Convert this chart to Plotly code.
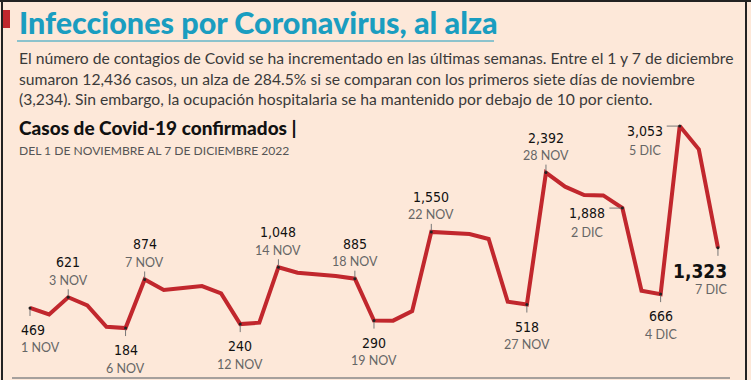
import pandas as pd
import plotly.graph_objects as go

# ---------------- data ----------------
dates = pd.date_range("2022-11-01", "2022-12-07", freq="D")
cases = [469, 377, 621, 506, 203, 184, 874, 724, 753, 781,
         677, 240, 260, 1048, 970, 947, 923, 885, 290, 289,
         426, 1550, 1539, 1520, 1449, 558, 518, 2392, 2192, 2074,
         2068, 1888, 715, 666, 3053, 2723, 1323]
month_abbr = {11: "NOV", 12: "DIC"}

# labelled points: (index, placement)
labelled = [(0, "first"), (2, "above"), (5, "below"), (6, "above"), (11, "below"),
            (13, "above"), (17, "above"), (18, "below"), (21, "above"), (26, "below"),
            (27, "above"), (31, "left"), (33, "below"), (34, "left"), (36, "last")]

title = "Infecciones por Coronavirus, al alza"
body = ["El número de contagios de Covid se ha incrementado en las últimas semanas. Entre el 1 y 7 de diciembre",
        "sumaron 12,436 casos, un alza de 284.5% si se comparan con los primeros siete días de noviembre",
        "(3,234). Sin embargo, la ocupación hospitalaria se ha mantenido por debajo de 10 por ciento."]
chart_title = "Casos de Covid-19 confirmados |"
chart_sub = "DEL 1 DE NOVIEMBRE AL 7 DE DICIEMBRE 2022"

# ---------------- style ----------------
W, H = 751, 380
BG = "#FDE8D9"
RED = "#C1272D"
TEAL = "#1A9DC0"
NUMF = "DejaVu Sans Condensed, Liberation Sans Narrow, Roboto"
TXTF = "Lato, Open Sans"
day = pd.Timedelta(days=1)
xr = [dates[0] - 1.57 * day, dates[-1] + 1.73 * day]
yr = [-554, 4844]

fig = go.Figure()
fig.add_trace(go.Scatter(x=dates, y=cases, mode="lines",
                         line=dict(color=RED, width=4), hoverinfo="skip"))

ann = []
shapes = []

def px(xp, yp):
    return xp / W, 1 - yp / H

def fmt(v):
    return f"{v:,}"

NUM = dict(family=NUMF, size=14, color="#111")
DAT = dict(family=TXTF, size=12.5, color="#666")
TICK = dict(color="#777", width=1)

for i, pos in labelled:
    d, v = dates[i], cases[i]
    dl = f"{d.day} {month_abbr[d.month]}"
    base = dict(x=d, y=v, xref="x", yref="y", showarrow=False)
    if pos in ("above", "below", "first"):
        s = 1 if pos == "above" else -1
        extra = dict(xanchor="left", xshift=-11) if pos == "first" else {}
        ann.append(dict(base, text=fmt(v), yshift=35 if s > 0 else -22, font=NUM, **extra))
        ann.append(dict(base, text=dl, yshift=17 if s > 0 else -40, font=DAT, **extra))
        shapes.append(dict(type="line", xref="x", yref="y", x0=d, x1=d, ysizemode="pixel", yanchor=v,
                           y0=0, y1=s * 8, line=TICK))
    elif pos == "left":
        ann.append(dict(base, text=fmt(v), xanchor="right", xshift=-15, yshift=-5, font=NUM))
        ann.append(dict(base, text=dl, xanchor="right", xshift=-17, yshift=-24, font=DAT))
        shapes.append(dict(type="line", xref="x", yref="y", xsizemode="pixel", xanchor=d,
                           x0=-1, x1=-13, y0=v, y1=v, line=TICK))
    else:
        ann.append(dict(base, text="<b>" + fmt(v) + "</b>", xanchor="right", xshift=11, yshift=-23,
                        font=dict(family=NUMF, size=19, color="#111")))
        ann.append(dict(base, text=dl, xanchor="right", xshift=11, yshift=-42, font=DAT))
        shapes.append(dict(type="line", xref="x", yref="y", x0=d, x1=d, ysizemode="pixel", yanchor=v,
                           y0=0, y1=-8, line=TICK))
    # tiny dot at point
    shapes.append(dict(type="circle", xref="x", yref="y", xsizemode="pixel", ysizemode="pixel",
                       xanchor=d, yanchor=v, x0=-1.5, x1=1.5, y0=-1.5, y1=1.5,
                       fillcolor="#222", line=dict(width=0)))

# header texts (paper coords)
x0, y0 = px(17, 22)
ann.append(dict(x=x0, y=y0, xref="paper", yref="paper", text=title, showarrow=False,
                xanchor="left", yanchor="middle",
                font=dict(family=TXTF, size=30.5, color=TEAL, weight=900)))
for k, line in enumerate(body):
    xx, yy = px(17, 58 + k * 20.5)
    ann.append(dict(x=xx, y=yy, xref="paper", yref="paper", text=line, showarrow=False,
                    xanchor="left", yanchor="middle", font=dict(family=TXTF, size=15.7, color="#3a3a3a")))
xx, yy = px(17, 127)
ann.append(dict(x=xx, y=yy, xref="paper", yref="paper", text=chart_title, showarrow=False,
                xanchor="left", yanchor="middle", font=dict(family=TXTF, size=19, color="#111", weight=900)))
xx, yy = px(17, 150)
ann.append(dict(x=xx, y=yy, xref="paper", yref="paper", text=chart_sub, showarrow=False,
                xanchor="left", yanchor="middle", font=dict(family=TXTF, size=12.1, color="#555")))

# frame & decorations (paper)
def pline(xa, ya, xb, yb, color, width):
    a = px(xa, ya); b = px(xb, yb)
    shapes.append(dict(type="line", xref="paper", yref="paper", x0=a[0], y0=a[1], x1=b[0], y1=b[1],
                       line=dict(color=color, width=width)))

pline(0, 1, W, 1, "#222", 2)
pline(2, 0, 2, H, "#222", 2)
pline(746, 0, 746, H, "#222", 2)
pline(12, 378, 730, 378, "#888", 1.5)
pline(17, 41, 494, 41, TEAL, 1)
a = px(3, 10); b = px(10, 28)
shapes.append(dict(type="rect", xref="paper", yref="paper", x0=a[0], y0=a[1], x1=b[0], y1=b[1],
                   fillcolor=RED, line=dict(width=0)))

fig.update_layout(
    width=W, height=H, margin=dict(l=0, r=0, t=0, b=0),
    paper_bgcolor=BG, plot_bgcolor=BG, showlegend=False,
    xaxis=dict(range=xr, visible=False, fixedrange=True),
    yaxis=dict(range=yr, visible=False, fixedrange=True),
    annotations=ann, shapes=shapes,
)
fig.write_html("out.html", config=dict(displayModeBar=False),
               post_script="document.body.style.margin='0';")
